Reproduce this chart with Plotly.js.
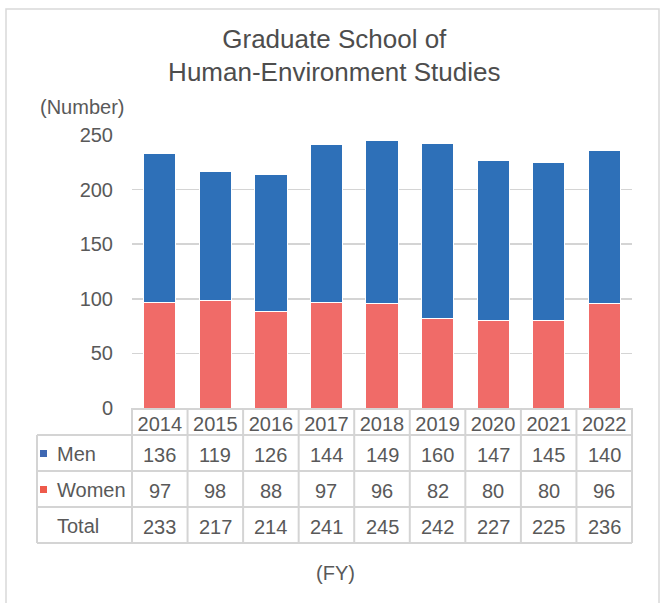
<!DOCTYPE html>
<html>
<head>
<meta charset="utf-8">
<script src="https://cdn.plot.ly/plotly-3.0.1.min.js"></script>
<style>html,body{margin:0;padding:0;background:#fff;}#chart{width:662px;height:603px;}</style>
</head>
<body>
<div id="chart"></div>
<script>
const years = ["2014","2015","2016","2017","2018","2019","2020","2021","2022"];
const men = [136,119,126,144,149,160,147,145,140];
const women = [97,98,88,97,96,82,80,80,96];
const totals = [233,217,214,241,245,242,227,225,236];
const rowLabels = ["Men","Women","Total"];
const yTicks = [0,50,100,150,200,250];

const FONT = "Liberation Sans, Arial, sans-serif";
const TXT = "#595959";
const GRID = "#D4D4D4";
const MEN_C = "#2E70B8";
const WOMEN_C = "#F06B68";

// pixel helpers (plot area: x 132..632, y 135..408)
const px = x => (x - 132) / 500;
const py = y => (408 - y) / 273;
const n = years.length;
const colCenter = i => (i + 0.5) / n;

const traces = [
  {type:"bar", name:"Women", x:years, y:women, marker:{color:WOMEN_C, line:{color:"#fff", width:1}}, hoverinfo:"x+y+name"},
  {type:"bar", name:"Men", x:years, y:men, marker:{color:MEN_C, line:{color:"#fff", width:1}}, hoverinfo:"x+y+name"}
];

const shapes = [];
const lineStyle = {color: GRID, width: 2};
// outer chart border
shapes.push({type:"rect", xref:"paper", yref:"paper", x0:px(6), x1:px(659), y0:py(9), y1:py(640), line:{color:"#D9D9D9", width:1.5}, fillcolor:"rgba(0,0,0,0)"});
// table horizontal lines
[435,471,507,543].forEach(y => shapes.push({type:"line", xref:"paper", yref:"paper", x0:px(37), x1:1, y0:py(y), y1:py(y), line:lineStyle}));
// left column vertical line
shapes.push({type:"line", xref:"paper", yref:"paper", x0:px(37), x1:px(37), y0:py(435), y1:py(543), line:lineStyle});
// category boundaries
for (let i = 0; i <= n; i++) {
  shapes.push({type:"line", xref:"paper", yref:"paper", x0:i/n, x1:i/n, y0:0, y1:py(543), line:lineStyle});
}
// legend keys
shapes.push({type:"rect", xref:"paper", yref:"paper", x0:px(40), x1:px(47), y0:py(450), y1:py(457), fillcolor:"#3F68B3", line:{width:0}});
shapes.push({type:"rect", xref:"paper", yref:"paper", x0:px(40), x1:px(47), y0:py(486), y1:py(493), fillcolor:"#EE5A4B", line:{width:0}});

const annotations = [];
const rowY = [455, 491, 527];
const rowData = [men, women, totals];
rowLabels.forEach((lab, r) => {
  annotations.push({xref:"paper", yref:"paper", x:px(55), y:py(rowY[r] - 1), xanchor:"left", yanchor:"middle", text:lab, showarrow:false, font:{family:FONT, size:20, color:TXT}});
  rowData[r].forEach((v, i) => {
    annotations.push({xref:"paper", yref:"paper", x:colCenter(i), y:py(rowY[r]), xanchor:"center", yanchor:"middle", text:String(v), showarrow:false, font:{family:FONT, size:20, color:TXT}});
  });
});
annotations.push({xref:"paper", yref:"paper", x:px(82), y:py(107), xanchor:"center", yanchor:"middle", text:"(Number)", showarrow:false, font:{family:FONT, size:20, color:TXT}});
annotations.push({xref:"paper", yref:"paper", x:px(335), y:py(573), xanchor:"center", yanchor:"middle", text:"(FY)", showarrow:false, font:{family:FONT, size:20, color:TXT}});

const layout = {
  width:662, height:603,
  margin:{l:132, r:30, t:135, b:195, pad:0},
  paper_bgcolor:"#fff", plot_bgcolor:"#fff",
  title:{text:"Graduate School of<br>Human-Environment Studies", x:0.505, xanchor:"center", y:0.921, yanchor:"top", font:{family:FONT, size:26, color:"#4D4D4D"}},
  barmode:"stack", bargap:0.42,
  showlegend:false,
  xaxis:{type:"category", categoryorder:"array", categoryarray:years, range:[-0.5, n-0.5], autorange:false, showgrid:false, showline:true, linecolor:GRID, linewidth:2, ticks:"", ticklabelstandoff:-3, tickfont:{family:FONT, size:20, color:TXT}, zeroline:false, fixedrange:true},
  yaxis:{range:[0,250], autorange:false, tickvals:yTicks, showgrid:true, gridcolor:GRID, gridwidth:1.5, zeroline:false, showline:false, ticks:"", tickfont:{family:FONT, size:20, color:TXT}, ticklabelstandoff:18, fixedrange:true},
  shapes:shapes,
  annotations:annotations,
  font:{family:FONT, color:TXT}
};

Plotly.newPlot("chart", traces, layout, {displayModeBar:false, staticPlot:true});
</script>
</body>
</html>
